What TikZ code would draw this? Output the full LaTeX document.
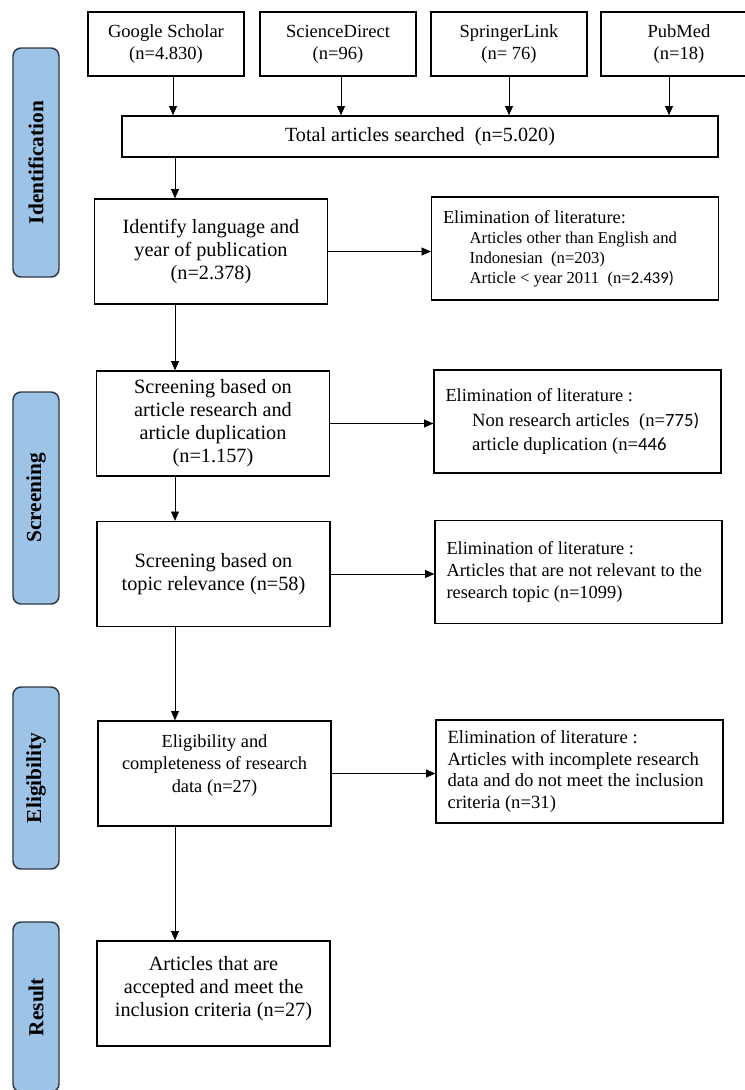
\documentclass[tikz,border=0pt]{standalone}
\usepackage{fontspec}
\setmainfont{Liberation Serif}
\newfontfamily\calnum{Carlito}
\usetikzlibrary{arrows.meta}
\definecolor{phaseblue}{RGB}{157,195,230}
\definecolor{phaseline}{RGB}{45,55,70}

\begin{document}
\begin{tikzpicture}[x=0.75pt, y=-0.75pt,
    src/.style={draw, line width=1pt, minimum width=117pt, minimum height=48pt, align=center, inner sep=2pt, font=\fontsize{13.9}{16.5}\selectfont},
    box/.style={draw, line width=1pt, minimum width=174.75pt, minimum height=78.75pt, align=center, inner sep=2pt, font=\fontsize{15.2}{17.25}\selectfont},
    elim/.style={draw, line width=1pt, text width=198pt, inner xsep=8.6pt, inner ysep=2pt, minimum height=77.25pt, align=flush left, font=\fontsize{13.8}{16.2}\selectfont},
    phase/.style={draw=phaseline, fill=phaseblue, line width=1.1pt, rounded corners=6pt, minimum height=34.5pt, rotate=90, font=\bfseries\fontsize{16}{19}\selectfont},
    arr/.style={-{Triangle[length=7pt, width=6pt]}, line width=0.6pt}
]
    \useasboundingbox (0,0) rectangle (745,1090);
    \clip (0,0) rectangle (745,1090);

    \node[phase, minimum width=171.75pt] (pIdent) at (36,162.5) {Identification};
    \node[phase, minimum width=159pt] (pScreen) at (36,498) {Screening};
    \node[phase, minimum width=136.5pt] (pElig) at (36,778) {Eligibility};
    \node[phase, minimum width=127.5pt] (pResult) at (36,1007) {Result};

    \node[src] (gs) at (166,44) {Google Scholar\\(n=4.830)};
    \node[src] (sd) at (338,44) {ScienceDirect\\(n=96)};
    \node[src] (sl) at (509,44) {SpringerLink\\(n= 76)};
    \node[src] (pm) at (679,44) {PubMed\\(n=18)};

    \node[draw, line width=1pt, minimum width=447pt, minimum height=30.75pt, font=\fontsize{15.1}{17}\selectfont] (total) at (420,136.5) {Total articles searched~~(n=5.020)};

    \node[box] (ident) at (211,251.5) {Identify language and\\year of publication\\(n=2.378)};
    \node[box] (scrA) at (213,423.5) {Screening based on\\article research and\\article duplication\\(n=1.157)};
    \node[box] (scrB) at (213.5,574) {Screening based on\\topic relevance (n=58)};
    \node[box, font=\fontsize{13.8}{16.9}\selectfont] (elig) at (214.5,773.5) {Eligibility and\\completeness of research\\data (n=27)\\[-2pt]};
    \node[box] (result) at (213.5,993.5) {Articles that are\\accepted and meet the\\inclusion criteria (n=27)\\[-6pt]};

    \node[elim, font=\fontsize{12.5}{15}\selectfont] (elimA) at (575,248.5) {{\fontsize{13.8}{15}\selectfont Elimination of literature:}\\
        \hspace*{20pt}Articles other than English and\\
        \hspace*{20pt}Indonesian~~(n=203)\\
        \hspace*{20pt}Article < year 2011~~(n={\calnum 2.439)}};
    \node[elim, font=\fontsize{14}{18}\selectfont] (elimB) at (577.5,421.5) {{\fontsize{13.8}{16}\selectfont Elimination of literature :}\\
        \hspace*{20pt}Non research articles~~(n={\calnum 775)}\\
        \hspace*{20pt}article duplication (n={\calnum 446}};
    \node[elim] (elimC) at (578.5,572) {Elimination of literature :\\
        Articles that are not relevant to the\\
        research topic (n=1099)};
    \node[elim, font=\fontsize{14}{16.3}\selectfont] (elimD) at (579.5,771.5) {Elimination of literature :\\
        Articles with incomplete research\\
        data and do not meet the inclusion\\
        criteria (n=31)};

    \coordinate (spine) at (175,0);

    \draw[arr] ([xshift=5.25pt]gs.south) -- ([xshift=5.25pt]gs.south |- total.north);
    \draw[arr] ([xshift=2.25pt]sd.south) -- ([xshift=2.25pt]sd.south |- total.north);
    \draw[arr] (sl.south) -- (sl.south |- total.north);
    \draw[arr] ([xshift=-7.5pt]pm.south) -- ([xshift=-7.5pt]pm.south |- total.north);

    \draw[arr] (spine |- total.south) -- (spine |- ident.north);
    \draw[arr] (spine |- ident.south) -- (spine |- scrA.north);
    \draw[arr] (spine |- scrA.south) -- (spine |- scrB.north);
    \draw[arr] (spine |- scrB.south) -- (spine |- elig.north);
    \draw[arr] (spine |- elig.south) -- (spine |- result.north);

    \draw[arr] (ident.east) -- (ident.east -| elimA.west);
    \draw[arr] (scrA.east) -- (scrA.east -| elimB.west);
    \draw[arr] (scrB.east) -- (scrB.east -| elimC.west);
    \draw[arr] (elig.east) -- (elig.east -| elimD.west);
\end{tikzpicture}
\end{document}
